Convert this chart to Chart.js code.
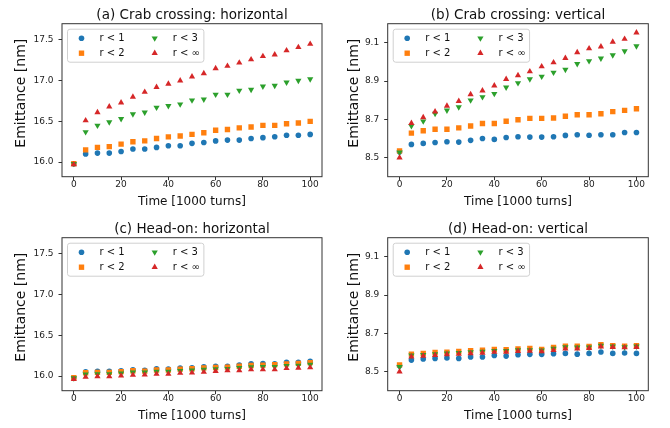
<!DOCTYPE html>
<html>
<head>
<meta charset="utf-8">
<script src="https://cdn.jsdelivr.net/npm/chart.js@4.4.1/dist/chart.umd.min.js"></script>
<style>
  html, body { margin: 0; padding: 0; background: #fff; }
  #fig { position: relative; width: 670px; height: 428px; }
  #fig canvas { position: absolute; }
</style>
</head>
<body>
<div id="fig">
  <canvas id="pa" width="335" height="214" style="left:0;top:0"></canvas>
  <canvas id="pb" width="335" height="214" style="left:335px;top:0"></canvas>
  <canvas id="pc" width="335" height="214" style="left:0;top:214px"></canvas>
  <canvas id="pd" width="335" height="214" style="left:335px;top:214px"></canvas>
</div>
<script>
// -------------------------
// data
// -------------------------
const time = [0, 5, 10, 15, 20, 25, 30, 35, 40, 45, 50, 55, 60, 65, 70, 75, 80, 85, 90, 95, 100];
const seriesLabels = ['r < 1', 'r < 2', 'r < 3', 'r < \u221e'];

const timeTicks = [0, 20, 40, 60, 80, 100];
const ticksH = [16.0, 16.5, 17.0, 17.5];
const ticksV = [8.5, 8.7, 8.9, 9.1];

// crab crossing, horizontal
const crabHr1   = [15.98, 16.10, 16.11, 16.11, 16.13, 16.16, 16.16, 16.18, 16.20, 16.20, 16.23, 16.24, 16.26, 16.27, 16.27, 16.29, 16.30, 16.31, 16.33, 16.33, 16.34];
const crabHr2   = [15.98, 16.15, 16.18, 16.19, 16.22, 16.25, 16.26, 16.29, 16.31, 16.32, 16.34, 16.36, 16.39, 16.40, 16.42, 16.43, 16.45, 16.45, 16.47, 16.48, 16.50];
const crabHr3   = [15.98, 16.37, 16.45, 16.49, 16.53, 16.59, 16.61, 16.67, 16.69, 16.71, 16.76, 16.77, 16.83, 16.83, 16.88, 16.89, 16.93, 16.94, 16.98, 17.00, 17.02];
const crabHrInf = [15.97, 16.51, 16.61, 16.68, 16.73, 16.80, 16.86, 16.92, 16.96, 17.00, 17.05, 17.09, 17.15, 17.18, 17.22, 17.26, 17.30, 17.32, 17.37, 17.41, 17.45];

// crab crossing, vertical
const crabVr1   = [8.530, 8.569, 8.574, 8.579, 8.583, 8.581, 8.590, 8.600, 8.595, 8.605, 8.609, 8.607, 8.607, 8.609, 8.616, 8.619, 8.617, 8.619, 8.619, 8.631, 8.631];
const crabVr2   = [8.535, 8.628, 8.640, 8.648, 8.648, 8.655, 8.665, 8.678, 8.678, 8.690, 8.698, 8.705, 8.705, 8.707, 8.716, 8.724, 8.724, 8.729, 8.740, 8.747, 8.755];
const crabVr3   = [8.527, 8.665, 8.690, 8.730, 8.747, 8.764, 8.800, 8.817, 8.834, 8.867, 8.890, 8.910, 8.924, 8.945, 8.960, 8.990, 9.005, 9.019, 9.036, 9.057, 9.083];
const crabVrInf = [8.500, 8.680, 8.710, 8.740, 8.770, 8.795, 8.830, 8.850, 8.876, 8.910, 8.930, 8.950, 8.976, 8.997, 9.020, 9.050, 9.070, 9.080, 9.105, 9.120, 9.153];

// head-on, horizontal
const headHr1   = [15.980, 16.053, 16.057, 16.057, 16.066, 16.078, 16.070, 16.090, 16.086, 16.098, 16.100, 16.115, 16.120, 16.120, 16.135, 16.150, 16.155, 16.150, 16.170, 16.170, 16.180];
const headHr2   = [15.980, 16.040, 16.045, 16.045, 16.055, 16.065, 16.060, 16.075, 16.075, 16.085, 16.090, 16.100, 16.105, 16.110, 16.120, 16.130, 16.135, 16.140, 16.150, 16.155, 16.165];
const headHr3   = [15.975, 16.020, 16.025, 16.025, 16.035, 16.045, 16.045, 16.055, 16.055, 16.065, 16.070, 16.080, 16.085, 16.090, 16.100, 16.110, 16.115, 16.115, 16.125, 16.130, 16.140];
const headHrInf = [15.960, 15.988, 15.996, 15.996, 16.004, 16.012, 16.016, 16.025, 16.025, 16.037, 16.040, 16.050, 16.060, 16.070, 16.070, 16.080, 16.080, 16.080, 16.095, 16.100, 16.105];

// head-on, vertical
const headVr1   = [8.530, 8.560, 8.566, 8.569, 8.571, 8.569, 8.576, 8.576, 8.584, 8.581, 8.588, 8.590, 8.590, 8.593, 8.595, 8.591, 8.595, 8.602, 8.595, 8.597, 8.595];
const headVr2   = [8.535, 8.591, 8.595, 8.600, 8.602, 8.605, 8.609, 8.612, 8.616, 8.614, 8.619, 8.621, 8.616, 8.626, 8.633, 8.633, 8.631, 8.640, 8.636, 8.633, 8.636];
const headVr3   = [8.525, 8.585, 8.588, 8.592, 8.595, 8.598, 8.602, 8.605, 8.609, 8.608, 8.612, 8.613, 8.611, 8.620, 8.628, 8.627, 8.627, 8.636, 8.632, 8.628, 8.632];
const headVrInf = [8.500, 8.578, 8.582, 8.586, 8.590, 8.592, 8.595, 8.598, 8.602, 8.602, 8.607, 8.608, 8.605, 8.612, 8.620, 8.620, 8.622, 8.630, 8.628, 8.626, 8.628];

// -------------------------
// styles
// -------------------------
const FONT = '"DejaVu Sans", sans-serif';
Chart.defaults.font.family = FONT;

const colors    = ['#1f77b4', '#ff7f0e', '#2ca02c', '#d62728'];
const shapes    = ['circle', 'rect', 'triangle', 'triangle'];
const rotations = [0, 0, 180, 0];
const radii     = [2.8, 3.8, 3.6, 3.6];

// -------------------------
// plugins
// -------------------------

// black box around the plot area
const framePlugin = {
    id: 'frame',
    afterDatasetsDraw(chart) {
        const { ctx, chartArea: a } = chart;
        ctx.save();
        ctx.strokeStyle = '#333';
        ctx.lineWidth = 1;
        ctx.strokeRect(a.left, a.top, a.right - a.left, a.bottom - a.top);
        ctx.restore();
    }
};

// rotated y label, placed by hand
const yLabelPlugin = {
    id: 'yLabel',
    afterDraw(chart, args, opts) {
        const { ctx, chartArea: a } = chart;
        ctx.save();
        ctx.translate(opts.x, (a.top + a.bottom) / 2 + opts.dy);
        ctx.rotate(-Math.PI / 2);
        ctx.font = `${opts.size}px ${FONT}`;
        ctx.fillStyle = '#111';
        ctx.textAlign = 'center';
        ctx.textBaseline = 'middle';
        ctx.fillText(opts.text, 0, 0);
        ctx.restore();
    }
};

// two-column legend in the upper left corner, filled column by column
const legendPlugin = {
    id: 'cornerLegend',
    afterDraw(chart, args, opts) {
        const { ctx, chartArea: a } = chart;
        const f = opts.size;
        ctx.save();
        ctx.font = `${f}px ${FONT}`;

        const items = chart.data.datasets.map(ds => ({ ds, w: ctx.measureText(ds.label).width }));
        const nRows = 2;
        const cols = [items.slice(0, nRows), items.slice(nRows)];

        const pad = 0.4 * f, handle = 2 * f, gap = 0.8 * f, colGap = 2 * f;
        const rowH = f, rowGap = 0.5 * f;
        const colW = cols.map(c => handle + gap + Math.max(...c.map(i => i.w)));
        const w = 2 * pad + colW[0] + colGap + colW[1];
        const h = 2 * pad + nRows * rowH + (nRows - 1) * rowGap;
        const x0 = a.left + opts.offset;
        const y0 = a.top + opts.offset;

        ctx.beginPath();
        ctx.roundRect(x0, y0, w, h, 2.5);
        ctx.fillStyle = 'rgba(255,255,255,0.8)';
        ctx.fill();
        ctx.strokeStyle = '#d0d0d0';
        ctx.lineWidth = 1;
        ctx.stroke();

        let cx = x0 + pad;
        cols.forEach((col, c) => {
            col.forEach((it, r) => {
                const cy = y0 + pad + r * (rowH + rowGap) + rowH / 2;
                const ds = it.ds;
                ctx.fillStyle = ds.backgroundColor;
                Chart.helpers.drawPoint(ctx, {
                    pointStyle: ds.pointStyle,
                    rotation: ds.pointRotation,
                    radius: ds.pointRadius,
                    borderWidth: 0
                }, cx + handle / 2, cy);
                ctx.fillStyle = '#111';
                ctx.textAlign = 'left';
                ctx.textBaseline = 'middle';
                ctx.fillText(ds.label, cx + handle + gap, cy);
            });
            cx += colW[c] + colGap;
        });
        ctx.restore();
    }
};

// -------------------------
// panels
// -------------------------
function makePanel(id, title, series, yMin, yMax, yTicks, geo) {
    const datasets = series.map((s, i) => ({
        label: seriesLabels[i],
        data: time.map((t, k) => ({ x: t, y: s[k] })),
        backgroundColor: colors[i],
        borderColor: colors[i],
        borderWidth: 0,
        pointStyle: shapes[i],
        pointRotation: rotations[i],
        pointRadius: radii[i],
        pointHoverRadius: radii[i],
        showLine: false,
        order: series.length - 1 - i
    }));

    new Chart(document.getElementById(id), {
        type: 'scatter',
        data: { datasets },
        plugins: [framePlugin, yLabelPlugin, legendPlugin],
        options: {
            responsive: false,
            animation: false,
            events: [],
            layout: {
                autoPadding: false,
                padding: { left: 0, top: 7, right: geo.right, bottom: 0 }
            },
            plugins: {
                legend: { display: false },
                tooltip: { enabled: false },
                title: {
                    display: true,
                    text: title,
                    fullSize: false,
                    color: '#111',
                    font: { size: 13.5, weight: 'normal', family: FONT },
                    padding: { top: 0, bottom: 0.5 }
                },
                yLabel: { text: 'Emittance [nm]', x: geo.ylabelX, dy: -7, size: 14 },
                cornerLegend: { size: 10, offset: 5.5 }
            },
            scales: {
                x: {
                    type: 'linear',
                    min: -5,
                    max: 105,
                    afterBuildTicks: scale => { scale.ticks = timeTicks.map(v => ({ value: v })); },
                    afterFit: scale => { scale.height = 37.3; },
                    border: { display: false },
                    grid: { drawOnChartArea: false, drawTicks: true, tickLength: 3.5, color: '#333' },
                    ticks: {
                        padding: 0,
                        color: '#222',
                        font: { size: 9, lineHeight: 1 },
                        maxRotation: 0
                    },
                    title: {
                        display: true,
                        text: 'Time [1000 turns]',
                        color: '#111',
                        font: { size: 12 },
                        padding: { top: 0, bottom: 4.8 }
                    }
                },
                y: {
                    type: 'linear',
                    min: yMin,
                    max: yMax,
                    afterBuildTicks: scale => { scale.ticks = yTicks.map(v => ({ value: v })); },
                    afterFit: scale => { scale.width = geo.left; },
                    border: { display: false },
                    grid: { drawOnChartArea: false, drawTicks: true, tickLength: 3.5, color: '#333' },
                    ticks: {
                        padding: 5,
                        color: '#222',
                        font: { size: 9 },
                        callback: v => v.toFixed(1)
                    }
                }
            }
        }
    });
}

const geoLeft  = { left: 62,   right: 13,   ylabelX: 21.7 };
const geoRight = { left: 52.7, right: 21.7, ylabelX: 19 };

makePanel('pa', '(a) Crab crossing: horizontal', [crabHr1, crabHr2, crabHr3, crabHrInf], 15.82, 17.70, ticksH, geoLeft);
makePanel('pb', '(b) Crab crossing: vertical',   [crabVr1, crabVr2, crabVr3, crabVrInf], 8.40, 9.20, ticksV, geoRight);
makePanel('pc', '(c) Head-on: horizontal',       [headHr1, headHr2, headHr3, headHrInf], 15.82, 17.70, ticksH, geoLeft);
makePanel('pd', '(d) Head-on: vertical',         [headVr1, headVr2, headVr3, headVrInf], 8.40, 9.20, ticksV, geoRight);
</script>
</body>
</html>
